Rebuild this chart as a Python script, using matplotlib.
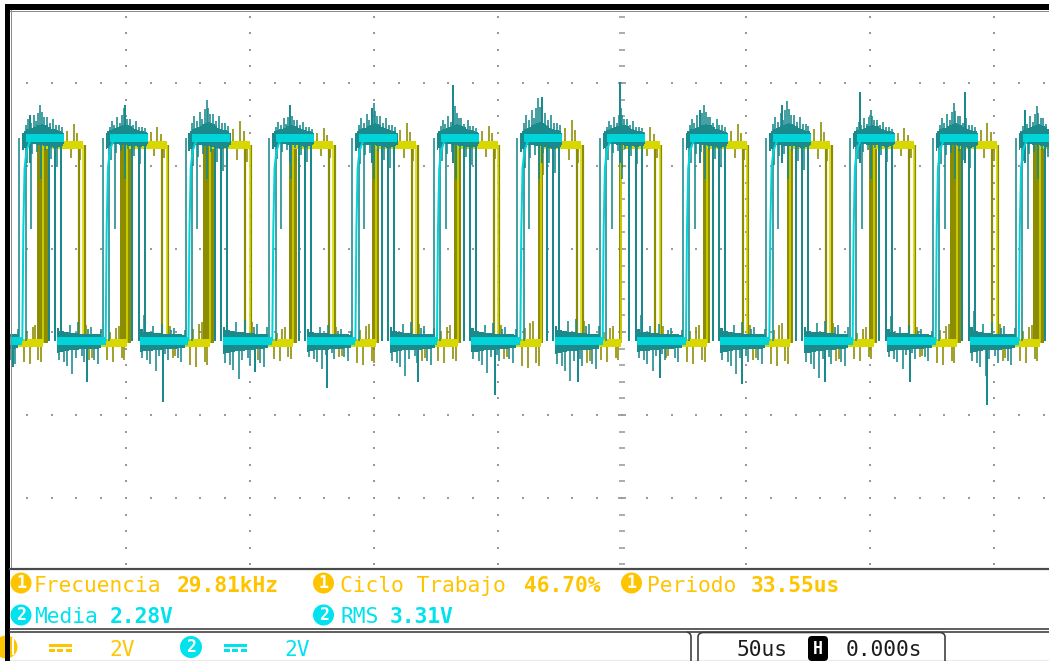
import numpy as np
import matplotlib
matplotlib.use("Agg")
import matplotlib.pyplot as plt
from matplotlib.patches import Rectangle, Circle, FancyBboxPatch, PathPatch
from matplotlib.path import Path

TIME_PER_DIV_US = 50.0
VOLT_PER_DIV = 2.0

# edge times (us, 0 = trigger position) for every visible cycle
ch2_rise_us = [-275.4, -241.8, -208.2, -174.8, -141.0, -107.5, -74.6, -41.0, -7.8, 25.8, 59.4, 93.0, 126.5, 160.0]
ch2_fall_us = [-261.5, -227.9, -194.3, -160.9, -127.1, -93.6, -60.7, -27.1, 6.1, 39.7, 73.3, 106.9, 140.4, 173.9]
ch1_rise_us = [-266.9, -233.3, -199.7, -166.3, -132.5, -99.0, -66.1, -32.5, -0.5, 34.3, 67.9, 101.5, 135.0, 168.5]
ch1_fall_us = [-250.8, -217.2, -183.6, -150.2, -116.4, -82.9, -50.0, -16.4, 15.2, 50.4, 84.0, 117.6, 151.1, 184.6]

# width of the persistence band on each CH1 rising edge (us)
ch1_band_us = [4.2, 4.2, 4.6, 4.2, 3.2, 3.0, 2.6, 2.0, 1.2, 2.6, 2.6, 3.2, 4.4, 4.6]
# amplitude factor of the noise seen in each cycle
cycle_noise_gain = [1.0, 1.0, 0.9, 1.15, 0.85, 1.05, 0.95, 1.2, 0.9, 1.0, 1.1, 0.85, 1.05, 0.95]

# levels (V)
ch1_high_V, ch1_low_V = 4.50, -0.27
ch2_high_V, ch2_low_V = 4.68, -0.22

# CH2 persistence edges relative to rise / fall (us)
ch2_rise_lines_us = [-1.2, 1.4]
ch2_fall_lines_us = [-3.2, -0.6, 1.8]
ch2_partial_dt_us = [3.6, 7.6]
ch2_partial_dv = [-2.2, -1.0]
# bright rising edge shape (us after rise, fraction of swing)
ch2_edge_dt_us = [0.0, 0.4, 0.9, 1.6, 2.6, 4.0]
ch2_edge_frac = [0.0, 0.55, 0.85, 0.93, 0.97, 1.0]

# CH2 noise on top level (relative to rise)
ch2_hi_spike_dt_us = [1.6, 2.4, 3.4, 4.6, 5.6, 6.5, 7.3, 7.9, 8.8, 9.8, 11.0, 12.4, 13.4, 14.6, 15.8]
ch2_hi_spike_dv = [0.3, 0.45, 0.35, 0.55, 0.4, 0.6, 0.8, 0.62, 0.5, 0.5, 0.35, 0.45, 0.3, 0.3, 0.25]
ch2_hi_dip_dt_us = [2.0, 4.0, 6.0, 9.2, 11.6, 14.0]
ch2_hi_dip_dv = [-0.6, -0.4, -0.35, -0.3, -0.5, -0.7]
ch2_hi_env_dt_us = [0, 1, 2, 3, 4, 5, 6, 7, 8, 9, 10, 11, 12, 13, 14, 15, 16, 17]
ch2_hi_env_up = [0.0, 0.04, 0.08, 0.1, 0.12, 0.15, 0.18, 0.2, 0.22, 0.2, 0.18, 0.14, 0.1, 0.08, 0.06, 0.05, 0.03, 0.0]
ch2_hi_env_dn = [0.2, 0.15, 0.1, 0.06, 0.06, 0.06, 0.08, 0.08, 0.08, 0.1, 0.1, 0.12, 0.12, 0.14, 0.14, 0.12, 0.1, 0.06]
# CH2 noise on low level (relative to rise)
ch2_lo_spike_dt_us = [14.6, 15.6, 16.8, 18.0, 19.2, 20.2, 21.6, 22.6, 24.0, 25.0, 26.4, 27.5, 29.0, 30.5, 31.8]
ch2_lo_spike_dv = [-0.45, 0.7, -0.5, -0.6, 0.4, -0.8, -0.4, 0.45, -0.35, -0.5, 0.3, 0.35, -0.45, -0.55, 0.3]
ch2_lo_env_dt_us = [0, 2, 4, 6, 8, 10, 12, 14, 16, 18, 20]
ch2_lo_env_up = [0.2, 0.12, 0.1, 0.08, 0.08, 0.06, 0.06, 0.05, 0.05, 0.04, 0.03]
ch2_lo_env_dn = [0.16, 0.14, 0.12, 0.1, 0.1, 0.08, 0.08, 0.07, 0.06, 0.05, 0.04]
# isolated large glitches (us, V)
ch2_glitch_dn_us = [-245.6, -215.7, -185.1, -148.0, -119.0, -82.3, -51.2, -17.7, 15.3, 48.4, 81.9, 116.1, 147.2]
ch2_glitch_dn_V = [-0.84, -1.21, -1.69, -0.96, -1.35, -1.2, -1.52, -1.2, -1.1, -1.25, -1.2, -1.2, -1.76]
ch2_glitch_up_us = [-238.7, -200.4, -133.9, -100.8, -68.1, -32.3, -0.8, 31.5, 64.5, 96.0, 138.3, 162.5]
ch2_glitch_up_V = [5.23, 5.47, 5.47, 5.40, 5.95, 5.66, 6.02, 5.35, 5.47, 5.78, 5.78, 5.35]

# CH1 noise
ch1_fall_lines_us = [-1.8, 0.6]
ch1_hi_spike_dt_us = [-6.5, -5.0, -3.8, -2.4, -1.2]
ch1_hi_spike_dv = [0.35, -0.3, 0.5, 0.3, -0.35]
ch1_lo_spike_dt_us = [-8.0, -6.8, -5.6, -4.4, -3.2, -2.0, -1.0]
ch1_lo_spike_dv = [-0.45, 0.3, -0.5, 0.4, 0.45, -0.4, -0.45]
ch1_fall_spike_dt_us = [1.2, 2.4, 3.5]
ch1_fall_spike_dv = [0.45, -0.4, -0.35]
ch1_rise_spike_dt_us = [-0.8, 0.6, 2.0]
ch1_rise_spike_dv = [0.3, -0.6, 0.4]

# readouts
meas_row1 = [("1", "Frecuencia", "29.81kHz"), ("1", "Ciclo Trabajo", "46.70%"), ("1", "Periodo", "33.55us")]
meas_row2 = [("2", "Media", "2.28V"), ("2", "RMS", "3.31V")]
ch_scale_text = ["2V", "2V"]
timebase_text = "50us"
trig_delay_text = "0.000s"

# ---------------- styling ----------------
W, H = 1049, 661
PX_PER_DIV_X, PX_PER_DIV_Y = 124.0, 83.0
X0_PX, Y0_PX = 622.0, 332.0
GL, GR, GT, GB = 10, 1049, 10, 567
PT = 0.72  # points per pixel at 100 dpi

GOLD = "#FFC400"
CYAN_TXT = "#00E2EE"
CYAN = "#00D4D8"
TEAL = "#1A8A8C"
YEL = "#D8D800"
OLIVE = "#8C8C00"
GRID = "#9A9A9A"
MONO = "DejaVu Sans Mono"


def px2t(x):
    return (x - X0_PX) / PX_PER_DIV_X * TIME_PER_DIV_US


def py2v(y):
    return (Y0_PX - y) / PX_PER_DIV_Y * VOLT_PER_DIV


fig = plt.figure(figsize=(W / 100, H / 100), dpi=100)
fig.patch.set_facecolor("white")

ax = fig.add_axes([GL / W, 1 - GB / H, (GR - GL) / W, (GB - GT) / H])
ax.set_xlim(px2t(GL), px2t(GR))
ax.set_ylim(py2v(GB), py2v(GT))
ax.axis("off")

# ---- graticule ----
v_dots = np.arange(-5.6, 7.7, 0.4)
t_dots = np.arange(-240, 171, 10)
for tv in [-200, -150, -100, -50, 50, 100, 150]:
    ax.scatter(np.full(len(v_dots), tv), v_dots, s=2.6, marker="s", c=GRID, linewidths=0, zorder=1)
for vv in [-4, -2, 0, 2, 4, 6]:
    ax.scatter(t_dots, np.full(len(t_dots), vv), s=2.6, marker="s", c=GRID, linewidths=0, zorder=1)
minor = [v for v in v_dots if abs(v / 2 - round(v / 2)) > 1e-6]
major = [v for v in v_dots if abs(v / 2 - round(v / 2)) <= 1e-6]
ax.hlines(minor, -1.4, 1.4, color=GRID, lw=1.6 * PT, zorder=1)
ax.hlines(major, -1.8, 1.8, color=GRID, lw=1.8 * PT, zorder=1)

n = len(ch2_rise_us)
LW_THIN = 1.6 * PT
LW_LEVEL = 8 * PT

# ---- CH1 (yellow) ----
for k in range(n):
    r, f = ch1_rise_us[k], ch1_fall_us[k]
    g = cycle_noise_gain[k]
    hi, lo = ch1_high_V, ch1_low_V
    w = ch1_band_us[k]
    ax.add_patch(Rectangle((r - 0.6 * w, lo), w, hi - lo, color=OLIVE, lw=0, zorder=2))
    ax.vlines([f + d for d in ch1_fall_lines_us], lo, hi, color=OLIVE, lw=2.2 * PT, zorder=2)
    ax.vlines([f + d for d in ch1_hi_spike_dt_us], hi, [hi + g * d for d in ch1_hi_spike_dv],
              color=OLIVE, lw=LW_THIN, zorder=2)
    ax.vlines([r + d for d in ch1_rise_spike_dt_us], hi, [hi + g * d for d in ch1_rise_spike_dv],
              color=OLIVE, lw=LW_THIN, zorder=2)
    ax.vlines([r + d for d in ch1_lo_spike_dt_us], lo, [lo + g * d for d in ch1_lo_spike_dv],
              color=OLIVE, lw=LW_THIN, zorder=2)
    ax.vlines([f + d for d in ch1_fall_spike_dt_us], lo, [lo + g * d for d in ch1_fall_spike_dv],
              color=OLIVE, lw=LW_THIN, zorder=2)
    # bright trace
    ax.hlines(hi, r, f, color=YEL, lw=LW_LEVEL, zorder=3)
    ax.vlines([r, f], lo, hi, color=YEL, lw=1.6 * PT, zorder=3)
    if k + 1 < n:
        ax.hlines(lo, f, ch1_rise_us[k + 1], color=YEL, lw=LW_LEVEL, zorder=3)

# ---- CH2 (cyan) ----
for k in range(n):
    r, f = ch2_rise_us[k], ch2_fall_us[k]
    g = cycle_noise_gain[k]
    hi, lo = ch2_high_V, ch2_low_V
    env_t = [r + d for d in ch2_hi_env_dt_us]
    ax.fill_between(env_t, [hi - 0.1 - g * d for d in ch2_hi_env_dn],
                    [hi + 0.12 + g * d for d in ch2_hi_env_up],
                    step="mid", color=TEAL, lw=0, zorder=4)
    ax.vlines([r + d for d in ch2_rise_lines_us], lo, hi, color=TEAL, lw=LW_THIN, zorder=4)
    ax.vlines([f + d for d in ch2_fall_lines_us], lo, hi, color=TEAL, lw=2 * PT, zorder=4)
    ax.vlines([r + d for d in ch2_partial_dt_us], hi, [hi + d for d in ch2_partial_dv],
              color=TEAL, lw=LW_THIN, zorder=4)
    ax.vlines([r + d for d in ch2_hi_spike_dt_us], hi, [hi + g * d for d in ch2_hi_spike_dv],
              color=TEAL, lw=LW_THIN, zorder=4)
    ax.vlines([r + d for d in ch2_hi_dip_dt_us], hi, [hi + g * d for d in ch2_hi_dip_dv],
              color=TEAL, lw=LW_THIN, zorder=4)
    ax.vlines([r + d for d in ch2_lo_spike_dt_us], lo, [lo + g * d for d in ch2_lo_spike_dv],
              color=TEAL, lw=LW_THIN, zorder=4)
    if k + 1 < n:
        nxt = ch2_rise_us[k + 1]
        lt = [f + d for d in ch2_lo_env_dt_us if f + d < nxt]
        m = len(lt)
        ax.fill_between(lt, [lo - 0.12 - g * d for d in ch2_lo_env_dn[:m]],
                        [lo + 0.12 + g * d for d in ch2_lo_env_up[:m]],
                        step="mid", color=TEAL, lw=0, zorder=4)
    # bright trace
    ax.plot([r + d for d in ch2_edge_dt_us], [lo + (hi - lo) * q for q in ch2_edge_frac],
            color=CYAN, lw=2 * PT, zorder=5, solid_capstyle="butt")
    ax.hlines(hi, r + ch2_edge_dt_us[-3], f + 3.0, color=CYAN, lw=LW_LEVEL, zorder=5)
    if k + 1 < n:
        ax.hlines(lo, f, ch2_rise_us[k + 1], color=CYAN, lw=LW_LEVEL, zorder=5)

ax.vlines(ch2_glitch_dn_us, ch2_low_V, ch2_glitch_dn_V, color=TEAL, lw=2 * PT, zorder=4)
ax.vlines(ch2_glitch_up_us, ch2_high_V - 0.6, ch2_glitch_up_V, color=TEAL, lw=2 * PT, zorder=4)

# ---------------- overlay (frame, readouts) ----------------
ov = fig.add_axes([0, 0, 1, 1], zorder=10)
ov.set_xlim(0, W)
ov.set_ylim(H, 0)
ov.axis("off")
ov.patch.set_alpha(0)

ov.add_patch(Rectangle((5, 4), W - 5, 6, color="black", lw=0))
ov.add_patch(Rectangle((5, 4), 5, H - 4, color="black", lw=0))
ov.plot([10, W], [10.5, 10.5], color="#8a8a8a", lw=1 * PT)
ov.plot([10.5, 10.5], [10, 567], color="#8a8a8a", lw=1 * PT)
ov.plot([10, W], [568.5, 568.5], color="#4a4a4a", lw=2.2 * PT)
ov.plot([10, W], [628.5, 628.5], color="#3a3a3a", lw=1.6 * PT)
ov.plot([10, W], [631.8, 631.8], color="#3a3a3a", lw=1.6 * PT)
ov.plot([10, W], [660.5, 660.5], color="#3a3a3a", lw=1.2 * PT)

FS = 15.3


def badge(x, y, num, col, r=10.5):
    ov.add_patch(Circle((x, y), r, color=col, lw=0))
    ov.text(x + 0.5, y + 0.5, num, color="white", fontsize=12, fontweight="bold",
            family=MONO, ha="center", va="center")


row1_badge_x = [21, 323.5, 631.5]
row1_label_x = [34, 340, 647]
row1_value_x = [177, 524, 751]
for (num, lab, val), bx, lx, vx in zip(meas_row1, row1_badge_x, row1_label_x, row1_value_x):
    badge(bx, 583, num, GOLD)
    ov.text(lx, 592, lab, color=GOLD, fontsize=FS, family=MONO, va="baseline")
    ov.text(vx, 592, val, color=GOLD, fontsize=FS, family=MONO, fontweight="bold", va="baseline")

row2_badge_x = [21, 323.5]
row2_label_x = [34, 340]
row2_value_x = [110, 390]
for (num, lab, val), bx, lx, vx in zip(meas_row2, row2_badge_x, row2_label_x, row2_value_x):
    badge(bx, 615, num, CYAN_TXT)
    ov.text(lx, 623, lab, color=CYAN_TXT, fontsize=FS, family=MONO, va="baseline")
    ov.text(vx, 623, val, color=CYAN_TXT, fontsize=FS, family=MONO, fontweight="bold", va="baseline")

# bottom status bar
ov.add_patch(Circle((6, 647), 11.5, color=GOLD, lw=0, zorder=1))
ov.add_patch(Rectangle((12, 638), 2.2, 17, color="white", lw=0, zorder=2))
ov.add_patch(Rectangle((5, 633), 5, 28, color="black", lw=0, zorder=3))


def dc_symbol(x0, col):
    ov.add_patch(Rectangle((x0, 643.5), 23, 3, color=col, lw=0))
    for i in range(3):
        ov.add_patch(Rectangle((x0 + i * 8.3, 648.5), 6, 3, color=col, lw=0))


dc_symbol(49, GOLD)
ov.text(109, 656, ch_scale_text[0], color=GOLD, fontsize=FS, family=MONO, va="baseline")
badge(191, 647, "2", CYAN_TXT, r=11)
dc_symbol(224, CYAN_TXT)
ov.text(284, 656, ch_scale_text[1], color=CYAN_TXT, fontsize=FS, family=MONO, va="baseline")

# timebase box
verts = [(691, 661), (691, 637), (691, 633), (687, 632)]
codes = [Path.MOVETO, Path.LINETO, Path.CURVE3, Path.CURVE3]
ov.add_patch(PathPatch(Path(verts, codes), fill=False, ec="#3a3a3a", lw=1.6 * PT))
verts = [(698, 661), (698, 637), (698, 633), (703, 632.5), (940, 632.5), (945, 633), (945, 637), (945, 661)]
codes = [Path.MOVETO, Path.LINETO, Path.CURVE3, Path.CURVE3, Path.LINETO, Path.CURVE3, Path.CURVE3, Path.LINETO]
ov.add_patch(PathPatch(Path(verts, codes), fill=False, ec="#3a3a3a", lw=1.6 * PT))
ov.text(737, 656, timebase_text, color="#1c1c1c", fontsize=FS, family=MONO, va="baseline")
ov.add_patch(FancyBboxPatch((808, 636), 20, 25, boxstyle="round,pad=0,rounding_size=4",
                            fc="black", ec="black", lw=0))
ov.text(818, 648.5, "H", color="white", fontsize=12, fontweight="bold", family=MONO,
        ha="center", va="center")
ov.text(846, 656, trig_delay_text, color="#1c1c1c", fontsize=FS, family=MONO, va="baseline")

fig.savefig("out.png", dpi=100, facecolor="white")
